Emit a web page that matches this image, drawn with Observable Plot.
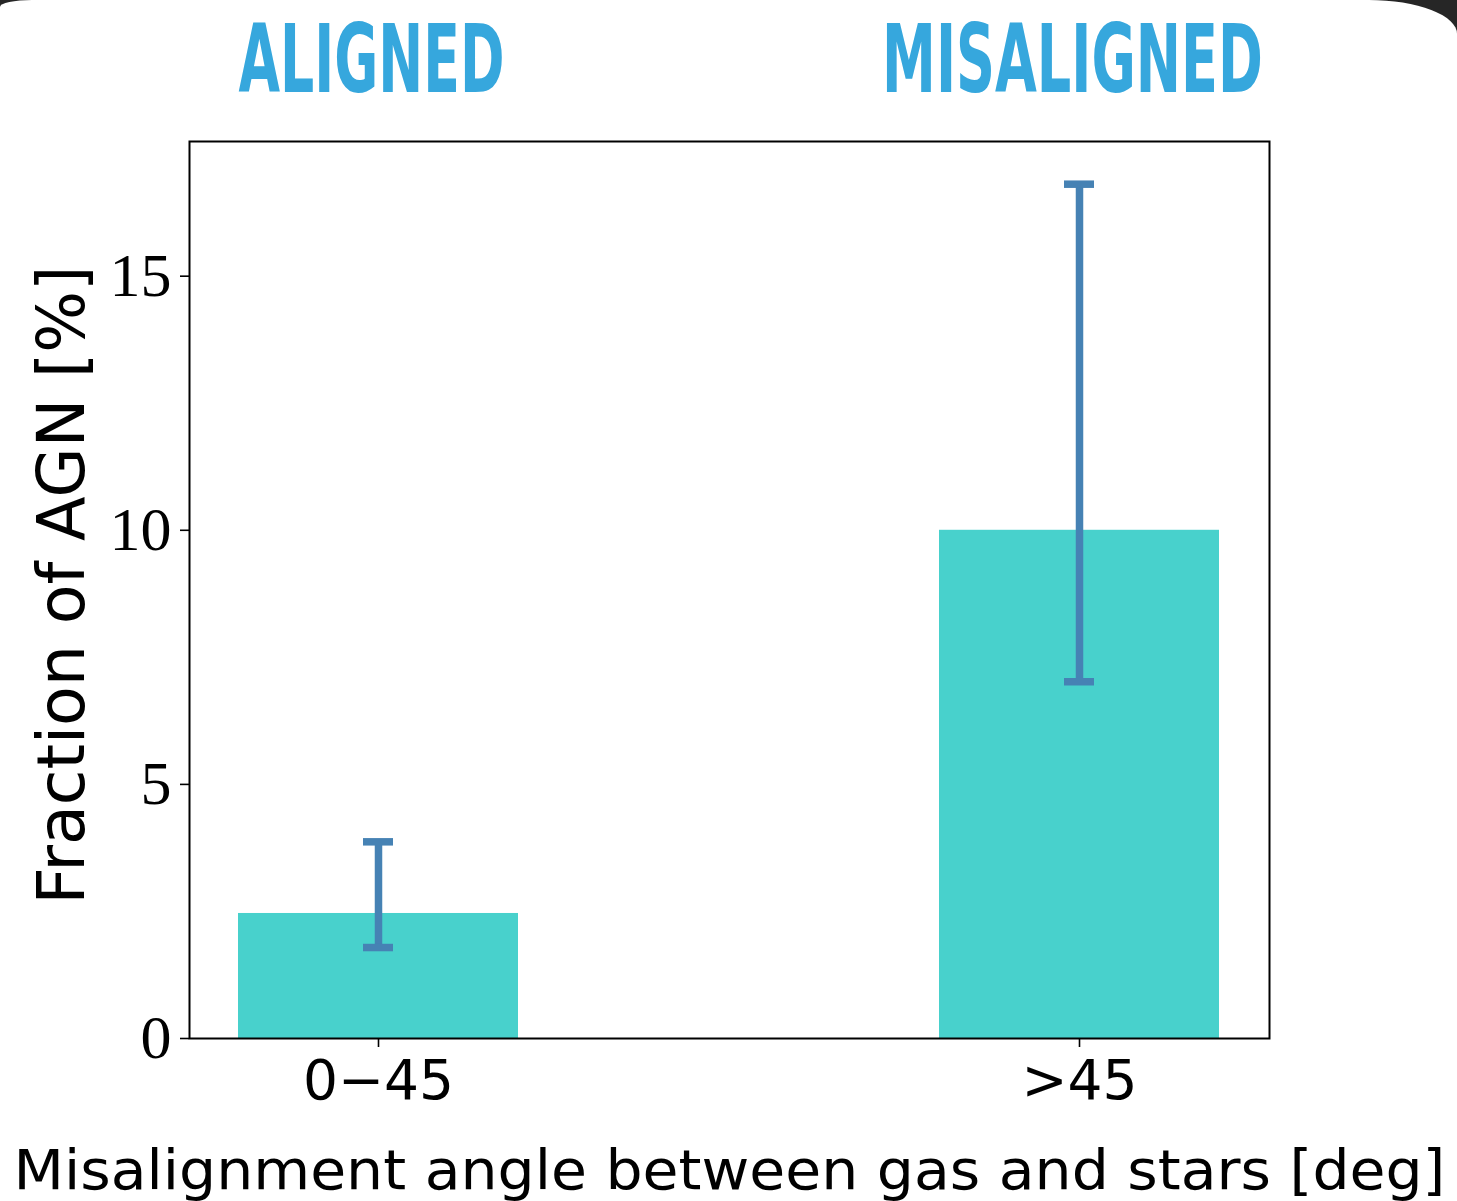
<!DOCTYPE html>
<html>
<head>
<meta charset="utf-8">
<script src="https://cdn.jsdelivr.net/npm/d3@7"></script>
<script src="https://cdn.jsdelivr.net/npm/@observablehq/plot@0.6"></script>
<style>
  html, body { margin: 0; padding: 0; background: #262626; overflow: hidden; }
  #card {
    width: 1457px; height: 1201px; background: #fff; overflow: hidden;
    border-radius: 32px 88px 0 0 / 7px 34px 0 0;
  }
  #card svg { display: block; background: transparent; }
</style>
</head>
<body>
<div id="card"></div>
<script>
// Angle bins and AGN fractions with their uncertainty ranges
const bins = ["0\u221245", ">45"];
const headings = ["ALIGNED", "MISALIGNED"];
const agnFraction = [2.46, 10.0];
const errLow = [1.79, 7.02];
const errHigh = [3.87, 16.81];
const yTicks = [0, 5, 10, 15];
const yLabel = "Fraction of AGN [%]";
const xLabel = "Misalignment angle between gas and stars [deg]";

const rows = bins.map((b, i) => ({
  bin: b, heading: headings[i], value: agnFraction[i], lo: errLow[i], hi: errHigh[i]
}));

const barColor = "#48d1cc";
const errColor = "#4682b4";
const headColor = "#36a7dd";
const capInset = 125;

const chart = Plot.plot({
  width: 1457,
  height: 1201,
  marginLeft: 189,
  marginRight: 188,
  marginTop: 141,
  marginBottom: 163,
  style: { background: "transparent", color: "black" },
  x: { domain: bins, paddingInner: 0.6, paddingOuter: 0.07 },
  y: { domain: [0, 17.65] },
  marks: [
    Plot.barY(rows, { x: "bin", y: "value", fill: barColor }),
    Plot.ruleX(rows, { x: "bin", y1: "lo", y2: "hi", stroke: errColor, strokeWidth: 7.5 }),
    Plot.tickY(rows, { x: "bin", y: "lo", stroke: errColor, strokeWidth: 7.5, insetLeft: capInset, insetRight: capInset }),
    Plot.tickY(rows, { x: "bin", y: "hi", stroke: errColor, strokeWidth: 7.5, insetLeft: capInset, insetRight: capInset }),
    Plot.frame({ stroke: "black", strokeWidth: 2 }),
    Plot.axisY({
      ticks: yTicks, tickSize: 9, tickPadding: 9, strokeWidth: 1.6,
      fontSize: 62, fontFamily: "Liberation Serif, serif", label: null
    }),
    Plot.axisX({
      tickSize: 9, tickPadding: 12, strokeWidth: 1.6,
      fontSize: 55, fontFamily: "DejaVu Sans, sans-serif", label: null
    }),
    // Panel headings above each bar
    Plot.text(rows, {
      x: "bin", text: "heading", frameAnchor: "top", lineAnchor: "bottom",
      dy: -50, dx: -7, fontSize: 94, fontWeight: "bold", fill: headColor,
      fontFamily: "DejaVu Sans Condensed, DejaVu Sans, sans-serif"
    }),
    // Axis titles
    Plot.text([yLabel], {
      text: d => d, frameAnchor: "left", textAnchor: "middle", lineAnchor: "bottom",
      rotate: -90, dx: -106, dy: -5, fontSize: 65, fontFamily: "DejaVu Sans, sans-serif", fill: "black"
    }),
    Plot.text([xLabel], {
      text: d => d, frameAnchor: "bottom", textAnchor: "middle", lineAnchor: "bottom",
      dy: 150, fontSize: 55, fontFamily: "DejaVu Sans, sans-serif", fill: "black"
    })
  ]
});

document.getElementById("card").appendChild(chart);

// Squeeze the headings and the x title horizontally to their set widths
const fitWidths = { "ALIGNED": 266, "MISALIGNED": 381 };
fitWidths[xLabel] = 1432;
d3.select(chart).selectAll("text").each(function () {
  const w = fitWidths[this.textContent];
  if (!w) return;
  const natural = this.getComputedTextLength();
  if (!natural) return;
  const sx = w / natural;
  const cx = +this.getAttribute("x") || 0;
  const prev = this.getAttribute("transform") || "";
  this.setAttribute("transform", `${prev} translate(${cx} 0) scale(${sx} 1) translate(${-cx} 0)`.trim());
});
</script>
</body>
</html>
